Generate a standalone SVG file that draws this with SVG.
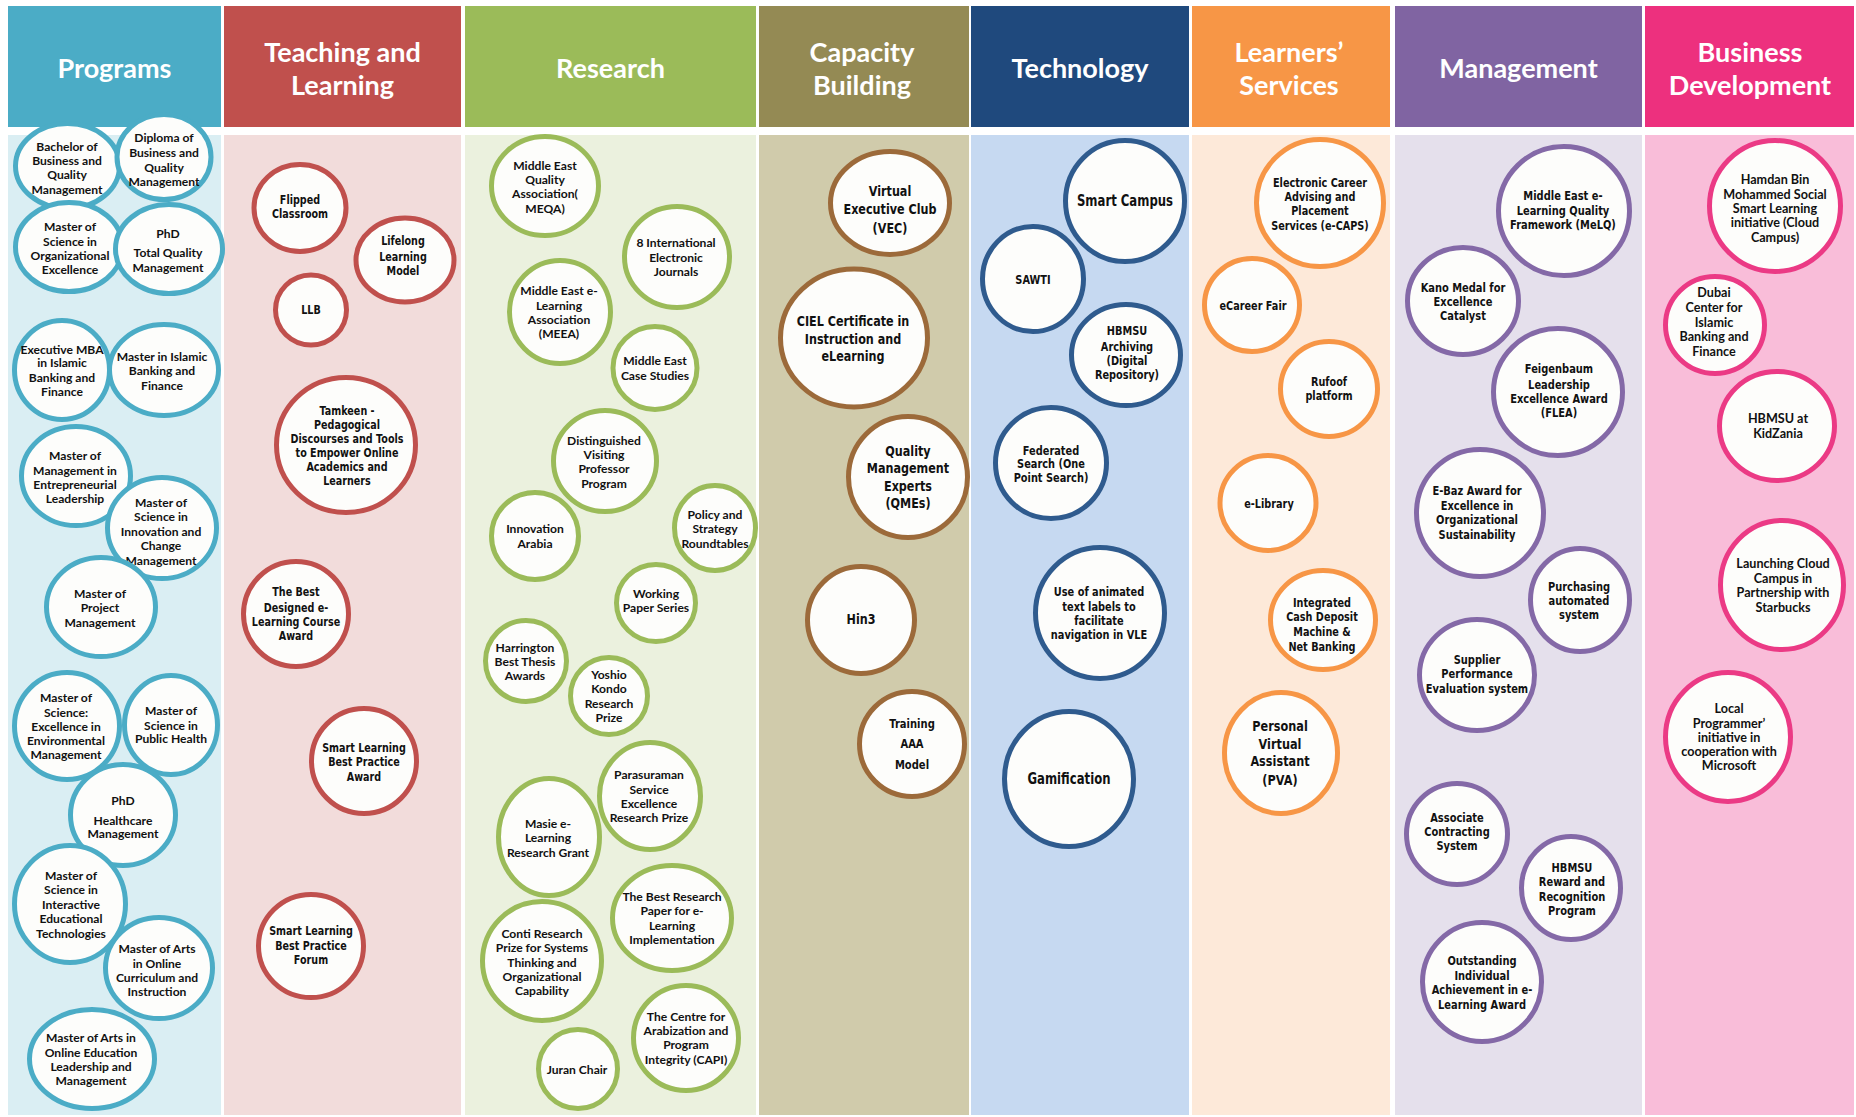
<svg xmlns="http://www.w3.org/2000/svg" width="1856" height="1117" viewBox="0 0 1856 1117">
<style>
.hdr{font-family:Lato,"Open Sans","Liberation Sans",sans-serif;font-weight:700;font-size:27px;fill:#fff;text-anchor:middle}
ellipse{fill:#FDFDFB;stroke-width:5}
.cal{font-family:Lato,"Liberation Sans",sans-serif;font-weight:700;font-size:12.1px;fill:#111;text-anchor:middle}
.calb{font-family:Lato,"Liberation Sans",sans-serif;font-weight:700;font-size:12.6px;fill:#111;text-anchor:middle}
.dv{font-family:"DejaVu Sans","Liberation Sans",sans-serif;font-weight:700;fill:#111;text-anchor:middle}
.f96{font-size:9.6px}.f98{font-size:9.8px}.f97{font-size:9.7px}.f99{font-size:9.9px}.f112{font-size:11.2px}.f10{font-size:10px}.f117{font-size:11.7px}.f113{font-size:11.3px}
.prog ellipse{stroke:#4BACC6}
.teach ellipse{stroke:#C0504D}
.res ellipse{stroke:#9BBB59}
.cap ellipse{stroke:#9C6A3A}
.tech ellipse{stroke:#2F5B8E}
.lrn ellipse{stroke:#F79646}
.mgmt ellipse{stroke:#8469A7}
.biz ellipse{stroke:#EB3A85}
</style>
<rect x="0" y="0" width="1856" height="1117" fill="#fff"/>
<g id="columns">
<rect x="8" y="135" width="213" height="980" fill="#DAEEF3"/>
<rect x="224" y="135" width="237" height="980" fill="#F2DCDB"/>
<rect x="465" y="135" width="291" height="980" fill="#EBF1DE"/>
<rect x="759" y="135" width="210" height="980" fill="#D0CBAB"/>
<rect x="971" y="135" width="218" height="980" fill="#C6D9F1"/>
<rect x="1192" y="135" width="198" height="980" fill="#FDE9D9"/>
<rect x="1395" y="135" width="247" height="980" fill="#E5E0EC"/>
<rect x="1645" y="135" width="209" height="980" fill="#F9BDD9"/>
</g>
<g id="headers">
<g id="h-programs"><rect x="8" y="6" width="213" height="121" fill="#4BACC6"/><text class="hdr" x="114.5" y="78">Programs</text></g>
<g id="h-teaching"><rect x="224" y="6" width="237" height="121" fill="#C0504D"/><text class="hdr" x="342.5" y="62">Teaching and</text><text class="hdr" x="342.5" y="95">Learning</text></g>
<g id="h-research"><rect x="465" y="6" width="291" height="121" fill="#9BBB59"/><text class="hdr" x="610.5" y="78">Research</text></g>
<g id="h-capacity"><rect x="759" y="6" width="210" height="121" fill="#948A54"/><text class="hdr" x="862" y="62">Capacity</text><text class="hdr" x="862" y="95">Building</text></g>
<g id="h-technology"><rect x="971" y="6" width="218" height="121" fill="#1F497D"/><text class="hdr" x="1080" y="78">Technology</text></g>
<g id="h-learners"><rect x="1192" y="6" width="198" height="121" fill="#F79646"/><text class="hdr" x="1289" y="62">Learners’</text><text class="hdr" x="1289" y="95">Services</text></g>
<g id="h-management"><rect x="1395" y="6" width="247" height="121" fill="#8064A2"/><text class="hdr" x="1518.5" y="78">Management</text></g>
<g id="h-business"><rect x="1645" y="6" width="209" height="121" fill="#ED307E"/><text class="hdr" x="1750" y="62">Business</text><text class="hdr" x="1750" y="95">Development</text></g>
</g>
<g id="connectors"></g>

<g class="prog">
<g id="p1"><ellipse cx="67.5" cy="166" rx="52" ry="42.5"/><text class="cal"><tspan x="67" y="150.5">Bachelor of</tspan><tspan x="67" y="164.5">Business and</tspan><tspan x="67" y="178.5">Quality</tspan><tspan x="67" y="193.5">Management</tspan></text></g>
<g id="p2"><ellipse cx="164" cy="157" rx="47" ry="42.5"/><text class="cal"><tspan x="164" y="141.5">Diploma of</tspan><tspan x="164" y="156.5">Business and</tspan><tspan x="164" y="171.5">Quality</tspan><tspan x="164" y="185.5">Management</tspan></text></g>
<g id="p3"><ellipse cx="69" cy="247" rx="53.5" ry="44.5"/><text class="cal"><tspan x="70" y="230.5">Master of</tspan><tspan x="70" y="245.5">Science in</tspan><tspan x="70" y="259.5">Organizational</tspan><tspan x="70" y="273.5">Excellence</tspan></text></g>
<g id="p4"><ellipse cx="169" cy="249" rx="53.5" ry="44.5"/><text class="cal"><tspan x="168" y="237.5">PhD</tspan><tspan x="168" y="256.5">Total Quality</tspan><tspan x="168" y="271.5">Management</tspan></text></g>
<g id="p5"><ellipse cx="62" cy="370" rx="47.5" ry="49.5"/><text class="cal"><tspan x="62" y="353.5">Executive MBA</tspan><tspan x="62" y="366.5">in Islamic</tspan><tspan x="62" y="381.5">Banking and</tspan><tspan x="62" y="395.5">Finance</tspan></text></g>
<g id="p6"><ellipse cx="164" cy="370" rx="54.5" ry="45.5"/><text class="cal"><tspan x="162" y="360.5">Master in Islamic</tspan><tspan x="162" y="374.5">Banking and</tspan><tspan x="162" y="389.5">Finance</tspan></text></g>
<g id="p7"><ellipse cx="76" cy="476" rx="54.5" ry="49.5"/><text class="cal"><tspan x="75" y="459.5">Master of</tspan><tspan x="75" y="474.5">Management in</tspan><tspan x="75" y="488.5">Entrepreneurial</tspan><tspan x="75" y="502.5">Leadership</tspan></text></g>
<g id="p8"><ellipse cx="162" cy="528" rx="54.5" ry="50.5"/><text class="cal"><tspan x="161" y="506.5">Master of</tspan><tspan x="161" y="520.5">Science in</tspan><tspan x="161" y="535.5">Innovation and</tspan><tspan x="161" y="549.5">Change</tspan><tspan x="161" y="564.5">Management</tspan></text></g>
<g id="p9"><ellipse cx="101" cy="607" rx="54.5" ry="49.5"/><text class="cal"><tspan x="100" y="597.5">Master of</tspan><tspan x="100" y="611.5">Project</tspan><tspan x="100" y="626.5">Management</tspan></text></g>
<g id="p10"><ellipse cx="67" cy="726" rx="52.5" ry="53.5"/><text class="cal"><tspan x="66" y="701.5">Master of</tspan><tspan x="66" y="716.5">Science:</tspan><tspan x="66" y="730.5">Excellence in</tspan><tspan x="66" y="744.5">Environmental</tspan><tspan x="66" y="758.5">Management</tspan></text></g>
<g id="p11"><ellipse cx="171" cy="725" rx="46.5" ry="49.5"/><text class="cal"><tspan x="171" y="714.5">Master of</tspan><tspan x="171" y="729.5">Science in</tspan><tspan x="171" y="742.5">Public Health</tspan></text></g>
<g id="p12"><ellipse cx="123" cy="815" rx="52.5" ry="50.5"/><text class="cal"><tspan x="123" y="804.5">PhD</tspan><tspan x="123" y="824.5">Healthcare</tspan><tspan x="123" y="837.5">Management</tspan></text></g>
<g id="p13"><ellipse cx="70" cy="904" rx="55.5" ry="58.5"/><text class="cal"><tspan x="71" y="879.5">Master of</tspan><tspan x="71" y="893.5">Science in</tspan><tspan x="71" y="908.5">Interactive</tspan><tspan x="71" y="922.5">Educational</tspan><tspan x="71" y="937.5">Technologies</tspan></text></g>
<g id="p14"><ellipse cx="159" cy="968" rx="53.5" ry="50.5"/><text class="cal"><tspan x="157" y="952.5">Master of Arts</tspan><tspan x="157" y="967.5">in Online</tspan><tspan x="157" y="981.5">Curriculum and</tspan><tspan x="157" y="995.5">Instruction</tspan></text></g>
<g id="p15"><ellipse cx="92" cy="1059" rx="62.5" ry="49.5"/><text class="cal"><tspan x="91" y="1041.5">Master of Arts in</tspan><tspan x="91" y="1056.5">Online Education</tspan><tspan x="91" y="1070.5">Leadership and</tspan><tspan x="91" y="1084.5">Management</tspan></text></g>
</g>

<g class="teach">
<g id="t1"><ellipse cx="300" cy="208" rx="46" ry="43.5"/><text class="dv f96" transform="scale(1,1.3)"><tspan x="300" y="156.9">Flipped</tspan><tspan x="300" y="167.7">Classroom</tspan></text></g>
<g id="t2"><ellipse cx="405" cy="260" rx="49" ry="42"/><text class="dv f96" transform="scale(1,1.3)"><tspan x="403" y="188.8">Lifelong</tspan><tspan x="403" y="200.4">Learning</tspan><tspan x="403" y="211.9">Model</tspan></text></g>
<g id="t3"><ellipse cx="311" cy="310" rx="35.5" ry="35"/><text class="dv f96" transform="scale(1,1.3)"><tspan x="311" y="241.2">LLB</tspan></text></g>
<g id="t4"><ellipse cx="346" cy="445" rx="69.5" ry="67.5"/><text class="dv f96" transform="scale(1,1.3)"><tspan x="347" y="319.2">Tamkeen -</tspan><tspan x="347" y="330">Pedagogical</tspan><tspan x="347" y="340.8">Discourses and Tools</tspan><tspan x="347" y="351.5">to Empower Online</tspan><tspan x="347" y="362.3">Academics and</tspan><tspan x="347" y="373.1">Learners</tspan></text></g>
<g id="t5"><ellipse cx="296" cy="614" rx="52.5" ry="52.5"/><text class="dv f96" transform="scale(1,1.3)"><tspan x="296" y="458.8">The Best</tspan><tspan x="296" y="470.4">Designed e-</tspan><tspan x="296" y="481.9">Learning Course</tspan><tspan x="296" y="492.7">Award</tspan></text></g>
<g id="t6"><ellipse cx="364" cy="761" rx="52.5" ry="52.5"/><text class="dv f96" transform="scale(1,1.3)"><tspan x="364" y="578.1">Smart Learning</tspan><tspan x="364" y="589.6">Best Practice</tspan><tspan x="364" y="600.4">Award</tspan></text></g>
<g id="t7"><ellipse cx="311" cy="946" rx="52.5" ry="51.5"/><text class="dv f96" transform="scale(1,1.3)"><tspan x="311" y="719.6">Smart Learning</tspan><tspan x="311" y="730.4">Best Practice</tspan><tspan x="311" y="741.2">Forum</tspan></text></g>
</g>

<g class="res">
<g id="r1"><ellipse cx="545" cy="186" rx="53.5" ry="49.5"/><text class="cal"><tspan x="545" y="169.5">Middle East</tspan><tspan x="545" y="183.5">Quality</tspan><tspan x="545" y="197.5">Association(</tspan><tspan x="545" y="212.5">MEQA)</tspan></text></g>
<g id="r2"><ellipse cx="677" cy="257" rx="52.5" ry="50.5"/><text class="cal"><tspan x="676" y="246.5">8 International</tspan><tspan x="676" y="261.5">Electronic</tspan><tspan x="676" y="275.5">Journals</tspan></text></g>
<g id="r3"><ellipse cx="560" cy="312" rx="50.5" ry="51.5"/><text class="cal"><tspan x="559" y="294.5">Middle East e-</tspan><tspan x="559" y="309.5">Learning</tspan><tspan x="559" y="323.5">Association</tspan><tspan x="559" y="337.5">(MEEA)</tspan></text></g>
<g id="r4"><ellipse cx="655" cy="368" rx="42" ry="41.5"/><text class="cal"><tspan x="655" y="364.5">Middle East</tspan><tspan x="655" y="379.5">Case Studies</tspan></text></g>
<g id="r5"><ellipse cx="605" cy="461" rx="51.5" ry="50.5"/><text class="cal"><tspan x="604" y="444.5">Distinguished</tspan><tspan x="604" y="458.5">Visiting</tspan><tspan x="604" y="472.5">Professor</tspan><tspan x="604" y="487.5">Program</tspan></text></g>
<g id="r6"><ellipse cx="535" cy="536" rx="43.5" ry="43.5"/><text class="cal"><tspan x="535" y="532.5">Innovation</tspan><tspan x="535" y="547.5">Arabia</tspan></text></g>
<g id="r7"><ellipse cx="715" cy="528" rx="40.5" ry="42.5"/><text class="cal"><tspan x="715" y="518.5">Policy and</tspan><tspan x="715" y="532.5">Strategy</tspan><tspan x="715" y="547.5">Roundtables</tspan></text></g>
<g id="r8"><ellipse cx="656" cy="603" rx="39.5" ry="38.5"/><text class="cal"><tspan x="656" y="597.5">Working</tspan><tspan x="656" y="611.5">Paper Series</tspan></text></g>
<g id="r9"><ellipse cx="526" cy="661" rx="40.5" ry="40.5"/><text class="cal"><tspan x="525" y="651.5">Harrington</tspan><tspan x="525" y="665.5">Best Thesis</tspan><tspan x="525" y="679.5">Awards</tspan></text></g>
<g id="r10"><ellipse cx="609" cy="696" rx="38.5" ry="38.5"/><text class="cal"><tspan x="609" y="678.5">Yoshio</tspan><tspan x="609" y="692.5">Kondo</tspan><tspan x="609" y="707.5">Research</tspan><tspan x="609" y="721.5">Prize</tspan></text></g>
<g id="r11"><ellipse cx="650" cy="796" rx="50.5" ry="53.5"/><text class="cal"><tspan x="649" y="778.5">Parasuraman</tspan><tspan x="649" y="793.5">Service</tspan><tspan x="649" y="807.5">Excellence</tspan><tspan x="649" y="821.5">Research Prize</tspan></text></g>
<g id="r12"><ellipse cx="549" cy="837" rx="50.5" ry="58.5"/><text class="cal"><tspan x="548" y="827.5">Masie e-</tspan><tspan x="548" y="841.5">Learning</tspan><tspan x="548" y="856.5">Research Grant</tspan></text></g>
<g id="r13"><ellipse cx="672" cy="918" rx="59.5" ry="52.5"/><text class="cal"><tspan x="672" y="900.5">The Best Research</tspan><tspan x="672" y="914.5">Paper for e-</tspan><tspan x="672" y="929.5">Learning</tspan><tspan x="672" y="943.5">Implementation</tspan></text></g>
<g id="r14"><ellipse cx="542" cy="961" rx="59.5" ry="59.5"/><text class="cal"><tspan x="542" y="937.5">Conti Research</tspan><tspan x="542" y="951.5">Prize for Systems</tspan><tspan x="542" y="966.5">Thinking and</tspan><tspan x="542" y="980.5">Organizational</tspan><tspan x="542" y="994.5">Capability</tspan></text></g>
<g id="r15"><ellipse cx="686" cy="1038" rx="52.5" ry="52.5"/><text class="cal"><tspan x="686" y="1020.5">The Centre for</tspan><tspan x="686" y="1034.5">Arabization and</tspan><tspan x="686" y="1048.5">Program</tspan><tspan x="686" y="1063.5">Integrity (CAPI)</tspan></text></g>
<g id="r16"><ellipse cx="578" cy="1069" rx="39.5" ry="39.5"/><text class="cal"><tspan x="577" y="1073.5">Juran Chair</tspan></text></g>
</g>

<g class="cap">
<g id="c1"><ellipse cx="890" cy="203" rx="59.5" ry="51.5"/><text class="dv f112" transform="scale(1,1.3)"><tspan x="890" y="150.5">Virtual</tspan><tspan x="890" y="164.8">Executive Club</tspan><tspan x="890" y="179.4">(VEC)</tspan></text></g>
<g id="c2"><ellipse cx="854" cy="338" rx="73.5" ry="69"/><text class="dv f112" transform="scale(1,1.3)"><tspan x="853" y="250.9">CIEL Certificate in</tspan><tspan x="853" y="264.8">Instruction and</tspan><tspan x="853" y="277.8">eLearning</tspan></text></g>
<g id="c3"><ellipse cx="908" cy="477" rx="59.5" ry="60.5"/><text class="dv f112" transform="scale(1,1.3)"><tspan x="908" y="350.9">Quality</tspan><tspan x="908" y="364">Management</tspan><tspan x="908" y="377.8">Experts</tspan><tspan x="908" y="390.9">(QMEs)</tspan></text></g>
<g id="c4"><ellipse cx="861" cy="620" rx="53.5" ry="53.5"/><text class="dv f112" transform="scale(1,1.3)"><tspan x="861" y="480.2">Hin3</tspan></text></g>
<g id="c5"><ellipse cx="912" cy="744" rx="52.5" ry="52.5"/><text class="dv f10" transform="scale(1,1.3)"><tspan x="912" y="560.2">Training</tspan><tspan x="912" y="575.6">AAA</tspan><tspan x="912" y="591.2">Model</tspan></text></g>
</g>

<g class="tech">
<g id="e1"><ellipse cx="1125" cy="201" rx="59.5" ry="60.5"/><text class="dv f117" transform="scale(1,1.3)"><tspan x="1125" y="158.1">Smart Campus</tspan></text></g>
<g id="e2"><ellipse cx="1033" cy="279" rx="50.5" ry="52.5"/><text class="dv f98" transform="scale(1,1.3)"><tspan x="1033" y="218.2">SAWTI</tspan></text></g>
<g id="e3"><ellipse cx="1126" cy="355" rx="54.5" ry="50.5"/><text class="dv f98" transform="scale(1,1.3)"><tspan x="1127" y="257.8">HBMSU</tspan><tspan x="1127" y="269.7">Archiving</tspan><tspan x="1127" y="280.5">(Digital</tspan><tspan x="1127" y="291.6">Repository)</tspan></text></g>
<g id="e4"><ellipse cx="1051" cy="463" rx="55.5" ry="55.5"/><text class="dv f98" transform="scale(1,1.3)"><tspan x="1051" y="349.7">Federated</tspan><tspan x="1051" y="360.1">Search (One</tspan><tspan x="1051" y="370.5">Point Search)</tspan></text></g>
<g id="e5"><ellipse cx="1100" cy="613" rx="64.5" ry="65.5"/><text class="dv f98" transform="scale(1,1.3)"><tspan x="1099" y="458.2">Use of animated</tspan><tspan x="1099" y="469.7">text labels to</tspan><tspan x="1099" y="480.5">facilitate</tspan><tspan x="1099" y="491.2">navigation in VLE</tspan></text></g>
<g id="e6"><ellipse cx="1069" cy="779" rx="64.5" ry="67.5"/><text class="dv f117" transform="scale(1,1.3)"><tspan x="1069" y="602.7">Gamification</tspan></text></g>
</g>

<g class="lrn">
<g id="l1"><ellipse cx="1320" cy="203" rx="63.5" ry="63.5"/><text class="dv f97" transform="scale(1,1.3)"><tspan x="1320" y="143.5">Electronic Career</tspan><tspan x="1320" y="154.3">Advising and</tspan><tspan x="1320" y="165.1">Placement</tspan><tspan x="1320" y="176.6">Services (e-CAPS)</tspan></text></g>
<g id="l2"><ellipse cx="1252" cy="305" rx="47.5" ry="46.5"/><text class="dv f97" transform="scale(1,1.3)"><tspan x="1253" y="238.2">eCareer Fair</tspan></text></g>
<g id="l3"><ellipse cx="1329" cy="389" rx="48.5" ry="47.5"/><text class="dv f97" transform="scale(1,1.3)"><tspan x="1329" y="296.6">Rufoof</tspan><tspan x="1329" y="307.4">platform</tspan></text></g>
<g id="l4"><ellipse cx="1268" cy="503" rx="48" ry="47.5"/><text class="dv f97" transform="scale(1,1.3)"><tspan x="1269" y="390.5">e-Library</tspan></text></g>
<g id="l5"><ellipse cx="1323" cy="620" rx="52.5" ry="49.5"/><text class="dv f97" transform="scale(1,1.3)"><tspan x="1322" y="466.6">Integrated</tspan><tspan x="1322" y="477.4">Cash Deposit</tspan><tspan x="1322" y="488.9">Machine &amp;</tspan><tspan x="1322" y="500.5">Net Banking</tspan></text></g>
<g id="l6"><ellipse cx="1281" cy="753" rx="56.5" ry="60.5"/><text class="dv f113" transform="scale(1,1.3)"><tspan x="1280" y="562.5">Personal</tspan><tspan x="1280" y="576.4">Virtual</tspan><tspan x="1280" y="589.5">Assistant</tspan><tspan x="1280" y="604.1">(PVA)</tspan></text></g>
</g>

<g class="mgmt">
<g id="m1"><ellipse cx="1564" cy="211" rx="65.5" ry="64.5"/><text class="dv f99" transform="scale(1,1.3)"><tspan x="1563" y="153.6">Middle East e-</tspan><tspan x="1563" y="165.2">Learning Quality</tspan><tspan x="1563" y="175.9">Framework (MeLQ)</tspan></text></g>
<g id="m2"><ellipse cx="1463" cy="301" rx="55.5" ry="53.5"/><text class="dv f99" transform="scale(1,1.3)"><tspan x="1463" y="224.4">Kano Medal for</tspan><tspan x="1463" y="235.2">Excellence</tspan><tspan x="1463" y="245.9">Catalyst</tspan></text></g>
<g id="m3"><ellipse cx="1558" cy="392" rx="64.5" ry="63.5"/><text class="dv f99" transform="scale(1,1.3)"><tspan x="1559" y="286.7">Feigenbaum</tspan><tspan x="1559" y="299">Leadership</tspan><tspan x="1559" y="309.8">Excellence Award</tspan><tspan x="1559" y="320.5">(FLEA)</tspan></text></g>
<g id="m4"><ellipse cx="1480" cy="513" rx="63.5" ry="63.5"/><text class="dv f99" transform="scale(1,1.3)"><tspan x="1477" y="380.5">E-Baz Award for</tspan><tspan x="1477" y="392.1">Excellence in</tspan><tspan x="1477" y="402.8">Organizational</tspan><tspan x="1477" y="414.4">Sustainability</tspan></text></g>
<g id="m5"><ellipse cx="1580" cy="600" rx="49.5" ry="51.5"/><text class="dv f99" transform="scale(1,1.3)"><tspan x="1579" y="454.4">Purchasing</tspan><tspan x="1579" y="465.2">automated</tspan><tspan x="1579" y="475.9">system</tspan></text></g>
<g id="m6"><ellipse cx="1477" cy="675" rx="57.5" ry="55.5"/><text class="dv f99" transform="scale(1,1.3)"><tspan x="1477" y="510.5">Supplier</tspan><tspan x="1477" y="521.3">Performance</tspan><tspan x="1477" y="532.8">Evaluation system</tspan></text></g>
<g id="m7"><ellipse cx="1457" cy="834" rx="50.5" ry="50.5"/><text class="dv f99" transform="scale(1,1.3)"><tspan x="1457" y="632.1">Associate</tspan><tspan x="1457" y="642.8">Contracting</tspan><tspan x="1457" y="653.6">System</tspan></text></g>
<g id="m8"><ellipse cx="1571" cy="888" rx="49.5" ry="51.5"/><text class="dv f99" transform="scale(1,1.3)"><tspan x="1572" y="670.5">HBMSU</tspan><tspan x="1572" y="681.3">Reward and</tspan><tspan x="1572" y="692.8">Recognition</tspan><tspan x="1572" y="703.6">Program</tspan></text></g>
<g id="m9"><ellipse cx="1482" cy="982" rx="59.5" ry="59.5"/><text class="dv f99" transform="scale(1,1.3)"><tspan x="1482" y="742.1">Outstanding</tspan><tspan x="1482" y="753.6">Individual</tspan><tspan x="1482" y="764.4">Achievement in e-</tspan><tspan x="1482" y="775.9">Learning Award</tspan></text></g>
</g>

<g class="biz">
<g id="b1"><ellipse cx="1775" cy="206" rx="65.5" ry="65.5"/><text class="calb"><tspan x="1775" y="183.6">Hamdan Bin</tspan><tspan x="1775" y="198.6">Mohammed Social</tspan><tspan x="1775" y="212.6">Smart Learning</tspan><tspan x="1775" y="226.6">initiative (Cloud</tspan><tspan x="1775" y="241.6">Campus)</tspan></text></g>
<g id="b2"><ellipse cx="1715" cy="325" rx="49.5" ry="48.5"/><text class="calb"><tspan x="1714" y="296.6">Dubai</tspan><tspan x="1714" y="312">Center for</tspan><tspan x="1714" y="326.6">Islamic</tspan><tspan x="1714" y="341">Banking and</tspan><tspan x="1714" y="355.6">Finance</tspan></text></g>
<g id="b3"><ellipse cx="1777" cy="426" rx="57.5" ry="54.5"/><text class="calb"><tspan x="1778" y="422.6">HBMSU at</tspan><tspan x="1778" y="437.6">KidZania</tspan></text></g>
<g id="b4"><ellipse cx="1782" cy="585" rx="61.5" ry="64.5"/><text class="calb"><tspan x="1783" y="567.6">Launching Cloud</tspan><tspan x="1783" y="582.6">Campus in</tspan><tspan x="1783" y="596.6">Partnership with</tspan><tspan x="1783" y="611.6">Starbucks</tspan></text></g>
<g id="b5"><ellipse cx="1728" cy="737" rx="62.5" ry="64.5"/><text class="calb"><tspan x="1729" y="712.6">Local</tspan><tspan x="1729" y="727.6">Programmer’</tspan><tspan x="1729" y="741.6">initiative in</tspan><tspan x="1729" y="755.6">cooperation with</tspan><tspan x="1729" y="769.6">Microsoft</tspan></text></g>
</g>
</svg>
